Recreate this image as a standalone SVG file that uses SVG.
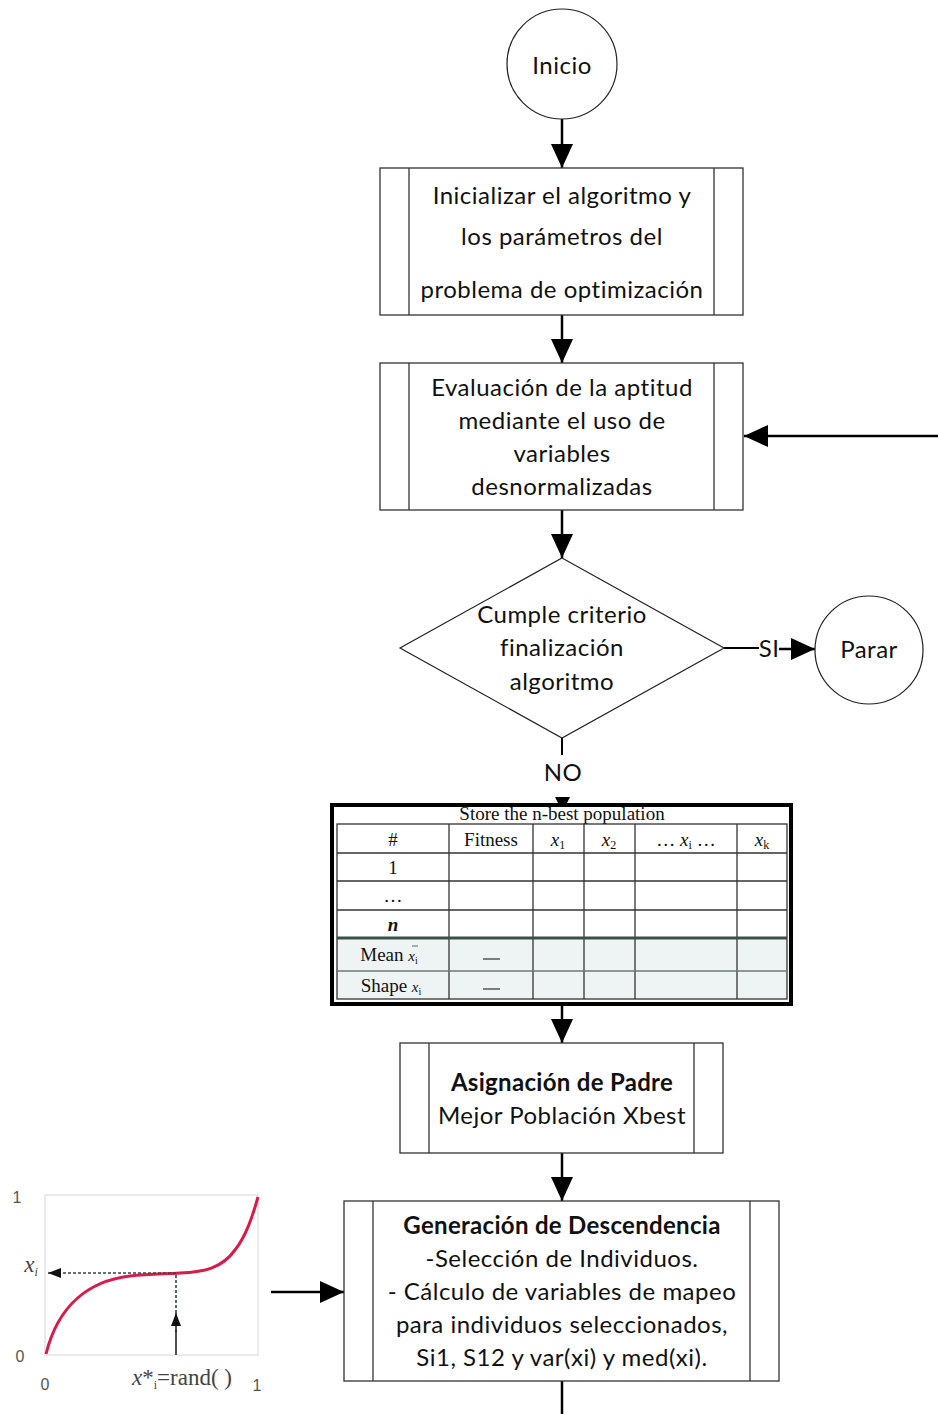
<svg xmlns="http://www.w3.org/2000/svg" width="938" height="1414" viewBox="0 0 938 1414">
  <style>
    .t { font-family: Lato, "Open Sans", sans-serif; font-size: 24px; letter-spacing: 0.5px; fill: #111; text-anchor: middle; }
    .b { font-weight: bold; letter-spacing: 0.3px; }
    .shape { fill: #fff; stroke: #333; stroke-width: 1.3; }
    .inner { stroke: #333; stroke-width: 1.3; fill: none; }
    .edge { stroke: #000; stroke-width: 2.5; fill: none; }
    .serif { font-family: "Liberation Serif", "Times New Roman", serif; font-size: 19px; fill: #111; text-anchor: middle; }
    .grid { stroke: #333; stroke-width: 1.3; fill: none; }
    .ax { font-family: "Liberation Sans", Arial, sans-serif; font-size: 16px; fill: #555; text-anchor: middle; }
  </style>
  <defs>
    <marker id="arrow" markerUnits="userSpaceOnUse" markerWidth="25" markerHeight="22" refX="24" refY="11" orient="auto">
      <path d="M0,0 L24,11 L0,22 Z" fill="#000"/>
    </marker>
    <marker id="arrowS" markerUnits="userSpaceOnUse" markerWidth="14" markerHeight="10" refX="13" refY="5" orient="auto">
      <path d="M0,0 L13,5 L0,10 Z" fill="#111"/>
    </marker>
  </defs>
  <rect width="938" height="1414" fill="#fff"/>

  <!-- connectors -->
  <g id="connectors">
    <line class="edge" x1="562" y1="119" x2="562" y2="168" marker-end="url(#arrow)"/>
    <line class="edge" x1="562" y1="315" x2="562" y2="363" marker-end="url(#arrow)"/>
    <line class="edge" x1="562" y1="510" x2="562" y2="558" marker-end="url(#arrow)"/>
    <line class="edge" x1="938" y1="436" x2="744" y2="436" marker-end="url(#arrow)"/>
    <line x1="724" y1="648" x2="759" y2="648" stroke="#000" stroke-width="2"/>
    <line class="edge" x1="779" y1="649" x2="815" y2="649" marker-end="url(#arrow)"/>
    <text class="t" x="769" y="657">SI</text>
    <line x1="562" y1="738" x2="562" y2="755" stroke="#000" stroke-width="2"/>
    <text class="t" x="563" y="781">NO</text>
    <path d="M555,797 L570,797 L562.5,812 Z" fill="#000"/>
    <line class="edge" x1="562" y1="1005" x2="562" y2="1043" marker-end="url(#arrow)"/>
    <line class="edge" x1="562" y1="1153" x2="562" y2="1201" marker-end="url(#arrow)"/>
    <line class="edge" x1="271" y1="1292" x2="344" y2="1292" marker-end="url(#arrow)"/>
    <line class="edge" x1="562" y1="1381" x2="562" y2="1414"/>
  </g>

  <!-- start -->
  <g id="inicio">
    <circle cx="562" cy="64" r="55" fill="#fff" stroke="#222" stroke-width="1.2"/>
    <text class="t" x="562" y="74">Inicio</text>
  </g>

  <!-- initialisation step -->
  <g id="inicializar">
    <rect class="shape" x="380" y="168" width="363" height="147"/>
    <line class="inner" x1="409" y1="168" x2="409" y2="315"/>
    <line class="inner" x1="714" y1="168" x2="714" y2="315"/>
    <text class="t" x="562" y="204">Inicializar el algoritmo y</text>
    <text class="t" x="562" y="245">los parámetros del</text>
    <text class="t" x="562" y="298">problema de optimización</text>
  </g>

  <!-- fitness evaluation -->
  <g id="evaluacion">
    <rect class="shape" x="380" y="363" width="363" height="147"/>
    <line class="inner" x1="409" y1="363" x2="409" y2="510"/>
    <line class="inner" x1="714" y1="363" x2="714" y2="510"/>
    <text class="t" x="562" y="396">Evaluación de la aptitud</text>
    <text class="t" x="562" y="429">mediante el uso de</text>
    <text class="t" x="562" y="462">variables</text>
    <text class="t" x="562" y="495">desnormalizadas</text>
  </g>

  <!-- stop criterion -->
  <g id="criterio">
    <polygon points="562,558 724,648 562,738 400,648" fill="#fff" stroke="#222" stroke-width="1.2"/>
    <text class="t" x="562" y="623">Cumple criterio</text>
    <text class="t" x="562" y="656">finalización</text>
    <text class="t" x="562" y="690">algoritmo</text>
  </g>

  <!-- end -->
  <g id="parar">
    <circle cx="869" cy="650" r="54" fill="#fff" stroke="#222" stroke-width="1.2"/>
    <text class="t" x="869" y="658">Parar</text>
  </g>

  <!-- n-best population table -->
  <g id="tabla">
    <rect x="332" y="805" width="459" height="199" fill="#fff" stroke="#000" stroke-width="4"/>
    <rect x="337" y="937" width="450" height="62" fill="#eef4f3"/>
    <text class="serif" x="562" y="820">Store the n-best population</text>
    <rect class="grid" x="337" y="824" width="450" height="175"/>
    <g class="grid">
      <line x1="449" y1="824" x2="449" y2="999"/>
      <line x1="533" y1="824" x2="533" y2="999"/>
      <line x1="584" y1="824" x2="584" y2="999"/>
      <line x1="635" y1="824" x2="635" y2="999"/>
      <line x1="737" y1="824" x2="737" y2="999"/>
      <line x1="337" y1="853" x2="787" y2="853"/>
      <line x1="337" y1="881" x2="787" y2="881"/>
      <line x1="337" y1="910" x2="787" y2="910"/>
      <line x1="337" y1="971" x2="787" y2="971" stroke="#6a7a76"/>
    </g>
    <line x1="337" y1="938" x2="787" y2="938" stroke="#3d4f4a" stroke-width="3"/>
    <text class="serif" x="393" y="846">#</text>
    <text class="serif" x="491" y="846">Fitness</text>
    <text class="serif" x="558" y="846"><tspan font-style="italic">x</tspan><tspan font-size="12" dy="3">1</tspan></text>
    <text class="serif" x="609" y="846"><tspan font-style="italic">x</tspan><tspan font-size="12" dy="3">2</tspan></text>
    <text class="serif" x="686" y="846">…  <tspan font-style="italic">x</tspan><tspan font-size="12" dy="3">i</tspan><tspan dy="-3"> …</tspan></text>
    <text class="serif" x="762" y="846"><tspan font-style="italic">x</tspan><tspan font-size="12" dy="3">k</tspan></text>
    <text class="serif" x="393" y="874">1</text>
    <text class="serif" x="393" y="902">…</text>
    <text class="serif" x="393" y="931" font-style="italic" font-weight="bold">n</text>
    <text class="serif" x="389" y="961" fill="#444">Mean <tspan font-style="italic" font-size="15">x</tspan><tspan font-size="10" dy="3">i</tspan></text>
    <line x1="412" y1="946" x2="418" y2="946" stroke="#666" stroke-width="1"/>
    <text class="serif" x="391" y="992" fill="#444">Shape <tspan font-style="italic" font-size="15">x</tspan><tspan font-size="10" dy="3">i</tspan></text>
    <line x1="483" y1="959" x2="500" y2="959" stroke="#555" stroke-width="1.5"/>
    <line x1="483" y1="989" x2="500" y2="989" stroke="#555" stroke-width="1.5"/>
  </g>

  <!-- parent assignment -->
  <g id="asignacion">
    <rect class="shape" x="400" y="1043" width="323" height="110"/>
    <line class="inner" x1="429" y1="1043" x2="429" y2="1153"/>
    <line class="inner" x1="694" y1="1043" x2="694" y2="1153"/>
    <text class="t b" x="562" y="1091">Asignación de Padre</text>
    <text class="t" x="562" y="1124">Mejor Población Xbest</text>
  </g>

  <!-- offspring generation -->
  <g id="generacion">
    <rect class="shape" x="344" y="1201" width="435" height="180"/>
    <line class="inner" x1="373" y1="1201" x2="373" y2="1381"/>
    <line class="inner" x1="750" y1="1201" x2="750" y2="1381"/>
    <text class="t b" x="562" y="1234">Generación de Descendencia</text>
    <text class="t" x="562" y="1267">-Selección de Individuos.</text>
    <text class="t" x="562" y="1300">- Cálculo de variables de mapeo</text>
    <text class="t" x="562" y="1333">para individuos seleccionados,</text>
    <text class="t" x="562" y="1366">Si1, S12 y var(xi) y med(xi).</text>
  </g>

  <!-- mapping curve plot -->
  <g id="mapeo">
    <rect x="45" y="1195" width="213" height="160" fill="none" stroke="#e4e4e4" stroke-width="1.5"/>
    <path d="M46,1354 C58,1306 88,1281 130,1276 C150,1274 165,1274 180,1273 C205,1272 222,1268 235,1250 C246,1236 252,1218 258,1197" fill="none" stroke="#d81b4a" stroke-width="3"/>
    <line x1="176" y1="1273" x2="48" y2="1273" stroke="#2f4a40" stroke-width="1.6" stroke-dasharray="3,2" marker-end="url(#arrowS)"/>
    <line x1="176" y1="1355" x2="176" y2="1330" stroke="#222" stroke-width="1.6"/>
    <line x1="176" y1="1332" x2="176" y2="1313" stroke="#222" stroke-width="1.6" marker-end="url(#arrowS)"/>
    <line x1="176" y1="1313" x2="176" y2="1274" stroke="#2f4a40" stroke-width="1.6" stroke-dasharray="3,2"/>
    <text class="ax" x="17" y="1203">1</text>
    <text class="ax" x="20" y="1362">0</text>
    <text class="ax" x="45" y="1390">0</text>
    <text class="ax" x="257" y="1391">1</text>
    <text x="31" y="1272" font-family="Liberation Serif, serif" font-size="23" font-style="italic" fill="#444" text-anchor="middle">x<tspan font-size="12" dy="4">i</tspan></text>
    <text x="182" y="1385" font-family="Liberation Serif, serif" font-size="23" fill="#444" text-anchor="middle"><tspan font-style="italic">x</tspan>*<tspan font-size="12" dy="4">i</tspan><tspan dy="-4">=rand( )</tspan></text>
  </g>
</svg>
